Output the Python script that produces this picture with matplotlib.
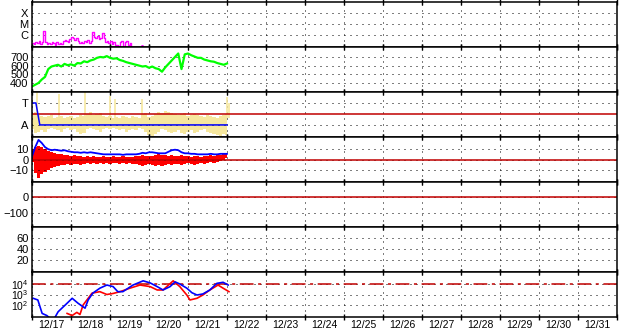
import numpy as np
import matplotlib
matplotlib.use("Agg")
import matplotlib.pyplot as plt
from matplotlib import font_manager
from matplotlib.ticker import FixedLocator, FixedFormatter, NullLocator, NullFormatter, LogFormatterMathtext

plt.rcParams["font.family"] = ["Liberation Sans", "DejaVu Sans"]
plt.rcParams["mathtext.default"] = "regular"
plt.rcParams["font.size"] = 8

# narrow font for the date labels if there is one
try:
    font_manager.findfont("Liberation Sans Narrow", fallback_to_default=False)
    date_font = dict(family="Liberation Sans Narrow", size=9)
except ValueError:
    date_font = dict(family="Liberation Sans", size=7.5)

# x axis: days since 12/17 00:00
day_labels = ["12/17", "12/18", "12/19", "12/20", "12/21", "12/22", "12/23", "12/24",
              "12/25", "12/26", "12/27", "12/28", "12/29", "12/30", "12/31"]

# x-ray flux (log10 W/m2), hourly from 12/17 00:00
xray_log = [-6.7, -6.8, -6.6, -6.75, -6.5, -6.8, -6.6, -5.65, -6.6, -6.85, -6.7, -6.8,
            -6.6, -6.75, -6.9, -6.6, -6.8, -6.7, -6.8, -6.55, -6.45, -6.5, -6.6, -6.4,
            -6.2, -6.3, -6.45, -6.25, -6.55, -6.7, -6.6, -6.75, -6.5, -6.6, -6.45, -6.7,
            -6.5, -5.75, -6.2, -6.3, -6.1, -6.35, -6.25, -5.85, -6.3, -6.6, -6.5, -6.7,
            -6.55, -6.8, -6.65, -6.9, -6.95, -7.0, -6.6, -6.55, -7.0, -6.6, -6.55, -6.9,
            -6.7, -7.0]

# solar wind speed (km/s), 2-hourly
speed = [360, 380, 400, 440, 470, 560, 590, 600, 610, 590, 620, 605,
         615, 600, 630, 625, 650, 640, 660, 670, 690, 700, 695, 710,
         690, 680, 685, 665, 655, 640, 630, 620, 610, 600, 590, 595,
         575, 590, 570, 560, 530, 580, 620, 660, 700, 740, 560, 730,
         740, 720, 705, 690, 690, 670, 660, 650, 645, 630, 620, 610,
         625]

# T/A panel: state level (1 = T, 0 = A) and scatter envelope, 2-hourly
state_t = [0.0, 0.06, 0.1, 0.2, 5.0]
state_v = [1, 1, 1, 0, 0]
scat_hi = [0.5, 0.6, 0.45, 0.4, 0.35, 0.4, 0.45, 0.3, 0.35, 0.4, 0.3, 0.35,
           0.4, 0.3, 0.35, 0.45, 0.4, 0.5, 0.6, 0.45, 0.5, 0.55, 0.4, 0.35,
           0.4, 0.3, 0.35, 0.3, 0.4, 0.35, 0.3, 0.4, 0.35, 0.3, 0.5, 0.55,
           0.35, 0.4, 0.5, 0.6, 0.55, 0.65, 0.6, 0.55, 0.5, 0.45, 0.5, 0.55,
           0.4, 0.45, 0.5, 0.45, 0.4, 0.35, 0.45, 0.4, 0.35, 0.3, 0.4, 0.45, 0.5]
scat_lo = [-0.2, -0.35, -0.3, -0.25, -0.3, -0.2, -0.15, -0.2, -0.25, -0.3, -0.2, -0.15,
           -0.25, -0.2, -0.3, -0.4, -0.35, -0.2, -0.15, -0.2, -0.25, -0.3, -0.2, -0.15,
           -0.2, -0.15, -0.2, -0.25, -0.2, -0.3, -0.25, -0.2, -0.25, -0.15, -0.2, -0.3,
           -0.45, -0.5, -0.4, -0.3, -0.2, -0.25, -0.3, -0.35, -0.3, -0.25, -0.35, -0.4,
           -0.3, -0.25, -0.35, -0.3, -0.25, -0.2, -0.3, -0.35, -0.4, -0.45, -0.5, -0.4, -0.45]
spike_t = [0.12, 0.7, 1.37, 1.99, 2.13, 2.81, 5.0, 5.05]
spike_v = [1.5, 1.4, 1.5, 1.3, 1.2, 1.2, 1.25, 1.0]

# IMF Bt and Bz envelope (nT), 2-hourly
bt = [3, 12, 19, 16, 12, 10, 9, 9.5, 9, 8.5, 9, 8,
      7.5, 7, 7, 6.5, 7, 6.5, 7, 6.5, 6, 5.5, 5, 5,
      5, 5, 5, 5, 4.5, 5, 5, 5, 5, 5.5, 6.5, 6,
      7, 7, 6.5, 6, 6, 6, 7.5, 9, 9.5, 9, 7, 6,
      6, 5.5, 5.5, 5, 5, 5, 5, 5.5, 5, 5, 5.5, 5.5, 5.5]
bz_hi = [10, 12, 13, 12, 10, 8, 7, 6, 5, 5, 4, 4,
         3, 4, 3, 3, 2, 3, 2, 3, 2, 2, 3, 2,
         2, 3, 2, 2, 3, 2, 2, 2, 3, 3, 4, 3,
         3, 3, 4, 5, 4, 4, 3, 4, 3, 3, 4, 3,
         3, 2, 3, 3, 2, 3, 3, 4, 3, 4, 4, 5, 5]
bz_lo = [-2, -13, -18, -14, -12, -10, -8, -7, -6, -5, -5, -4,
         -5, -4, -4, -5, -4, -3, -4, -3, -4, -3, -4, -3,
         -4, -3, -3, -4, -3, -4, -3, -4, -4, -5, -6, -5,
         -4, -5, -6, -5, -6, -5, -4, -5, -4, -4, -5, -4,
         -3, -4, -5, -4, -3, -4, -3, -2, -3, -2, -1, 0, 1]

# electron flux (log10), two channels
e_blue_t = [0.03, 0.15, 0.26, 0.38, 0.54, 0.67, 0.9, 1.03, 1.18, 1.36, 1.44, 1.56,
            1.74, 1.92, 2.08, 2.2, 2.33, 2.59, 2.85, 3.03, 3.21, 3.36, 3.54, 3.67,
            3.79, 3.97, 4.1, 4.23, 4.38, 4.56, 4.74, 4.9, 5.03]
e_blue = [2.64, 2.48, 1.2, 1.0, 0.5, 1.36, 2.17, 2.64, 2.17, 1.7, 2.48, 3.13,
          3.6, 3.9, 3.75, 3.27, 3.27, 3.9, 4.3, 4.1, 3.75, 3.43, 3.75, 4.2,
          4.0, 3.6, 3.17, 2.95, 3.05, 3.43, 4.06, 4.16, 3.9]
e_red_t = [0.9, 1.03, 1.15, 1.23, 1.31, 1.54, 1.74, 1.92, 2.08, 2.26, 2.51, 2.77,
           3.03, 3.21, 3.36, 3.62, 3.79, 3.97, 4.05, 4.23, 4.38, 4.56, 4.77, 4.9, 5.05]
e_red = [1.2, 1.0, 1.3, 1.1, 2.0, 3.13, 3.27, 3.0, 3.1, 3.27, 3.6, 3.9,
         3.75, 3.43, 3.43, 4.3, 3.75, 2.95, 2.48, 2.64, 2.95, 3.43, 3.9, 3.6, 3.27]

t1h = np.arange(len(xray_log)) / 24
t2h = np.arange(len(speed)) / 12

W, H = 628, 334
left, right = 32, 617
tops = [2, 47, 92, 137, 182, 227, 272]
ph = 45
dots = dict(color="black", linestyle=(0, (1, 5)), linewidth=0.72)
darkred = "#c00000"

fig = plt.figure(figsize=(W / 100, H / 100), dpi=100)
axes = []
for top in tops:
    ax = fig.add_axes([left / W, 1 - (top + ph) / H, (right - left) / W, ph / H])
    ax.set_xlim(0, 15)
    ax.xaxis.set_major_locator(FixedLocator(range(16)))
    ax.xaxis.set_minor_locator(FixedLocator(np.arange(15) + 0.5))
    ax.xaxis.set_major_formatter(NullFormatter())
    ax.xaxis.set_minor_formatter(NullFormatter())
    ax.tick_params(axis="x", which="major", direction="inout", length=4, width=1, top=True)
    ax.tick_params(axis="x", which="minor", length=0)
    ax.tick_params(axis="y", which="both", length=0, pad=2.5)
    ax.grid(axis="x", which="major", **dots)
    for s in ax.spines.values():
        s.set_linewidth(1.1)
    axes.append(ax)

# x-ray
ax = axes[0]
ax.set_yscale("log")
ax.set_ylim(10 ** -7.09, 1e-3)
ax.yaxis.set_major_locator(FixedLocator([1e-6, 1e-5, 1e-4]))
ax.yaxis.set_minor_locator(NullLocator())
ax.set_yticklabels(["C", "M", "X"])
ax.grid(axis="y", **dots)
ax.step(t1h, 10 ** np.array(xray_log), where="post", color="#ff00ff", lw=1)
ax.plot([2.82], [10 ** -7.0], "s", color="#ff00ff", ms=1)

# speed
ax = axes[1]
ax.set_ylim(296, 815)
ax.set_yticks([400, 500, 600, 700])
ax.grid(axis="y", **dots)
ax.plot(t2h, speed, color="#00ff00", lw=1.6)

# T / A
ax = axes[2]
ax.set_ylim(-0.55, 1.5)
ax.set_yticks([0, 1])
ax.set_yticklabels(["A", "T"])
ax.grid(axis="y", **dots)
ax.fill_between(t2h, scat_lo, scat_hi, step="mid", color="#f6e79e", lw=0)
ax.vlines(spike_t, 0.3, spike_v, color="#f6e79e", lw=1.2)
ax.axhline(0.5, color=darkred, lw=1.1)
ax.plot(state_t, state_v, color="#0000ff", lw=1.1)

# Bt / Bz
ax = axes[3]
ax.set_ylim(-21.8, 21.8)
ax.set_yticks([-10, 0, 10])
ax.grid(axis="y", **dots)
ax.axhline(0, color=darkred, lw=1.1)
ax.fill_between(t2h, bz_lo, bz_hi, step="mid", color="#ff0000", lw=0)
ax.plot(t2h, bt, color="#0000ff", lw=1.3)

# empty panel with zero line
ax = axes[4]
ax.set_ylim(-193, 99)
ax.set_yticks([-100, 0])
ax.grid(axis="y", **dots)
ax.axhline(0, color=darkred, lw=1.1)

# empty panel
ax = axes[5]
ax.set_ylim(-2, 80)
ax.set_yticks([20, 40, 60])
ax.grid(axis="y", **dots)

# electron flux
ax = axes[6]
ax.set_yscale("log")
ax.set_ylim(10 ** 0.86, 10 ** 5.14)
ax.yaxis.set_major_locator(FixedLocator([1e2, 1e3, 1e4]))
ax.yaxis.set_minor_locator(NullLocator())
ax.yaxis.set_major_formatter(LogFormatterMathtext())
ax.tick_params(axis="y", labelsize=7.5)
ax.grid(axis="y", **dots)
ax.axhline(1e4, color=darkred, lw=1.1, dashes=(9, 3, 2, 3))
ax.plot(e_red_t, 10 ** np.array(e_red), color="#ff0000", lw=1.2)
ax.plot(e_blue_t, 10 ** np.array(e_blue), color="#0000ff", lw=1.2)
ax.xaxis.set_minor_formatter(FixedFormatter(day_labels))
ax.tick_params(axis="x", which="minor", labelbottom=True, pad=2.5)
for lab in ax.get_xticklabels(minor=True):
    lab.set_fontproperties(font_manager.FontProperties(**date_font))

fig.savefig("out.png", dpi=100)
